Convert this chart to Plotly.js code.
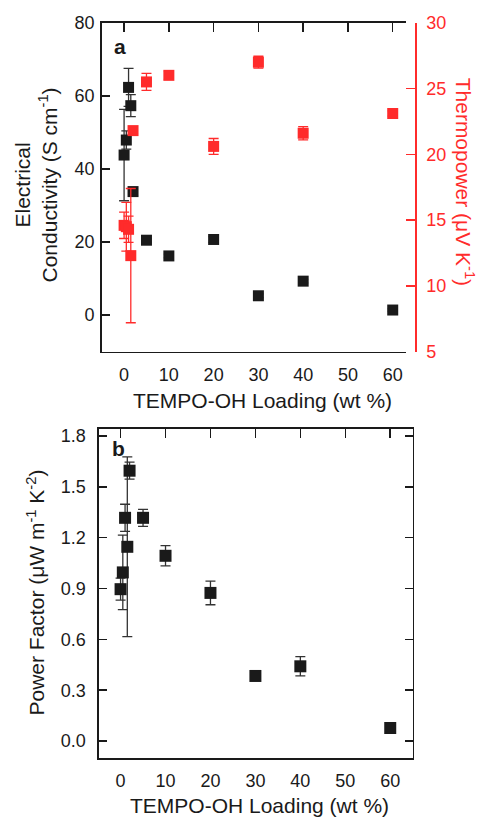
<!DOCTYPE html>
<html>
<head>
<meta charset="utf-8">
<script src="https://cdn.plot.ly/plotly-3.0.1.min.js"></script>
<style>html,body{margin:0;padding:0;background:#fff;}#chart{width:480px;height:820px;}</style>
</head>
<body>
<div id="chart"></div>
<script>
// ---- data ----
var loading = [0, 0.5, 1, 1.5, 2, 5, 10, 20, 30, 40, 60];
var conductivity = [43.8, 47.9, 62.3, 57.3, 33.8, 20.5, 16.2, 20.7, 5.3, 9.3, 1.4];
var conductivityErr = [12.5, 2.5, 5.2, 3.0, 1.0, 0.5, 0.5, 0.8, 0.5, 0.5, 0.3];
var thermopower = [14.6, 14.5, 14.3, 12.3, 21.8, 25.5, 26.0, 20.6, 27.0, 21.6, 23.1];
var thermopowerErr = [1.0, 1.85, 1.0, 5.1, 0.2, 0.65, 0.3, 0.6, 0.45, 0.5, 0.2];
var powerFactor = [0.896, 0.995, 1.317, 1.146, 1.595, 1.317, 1.093, 0.874, 0.384, 0.441, 0.077];
var powerFactorErr = [0.065, 0.22, 0.08, 0.53, 0.05, 0.05, 0.06, 0.07, 0.02, 0.057, 0.01];
var xTicks = [0, 10, 20, 30, 40, 60, 50];
var condTicks = [0, 20, 40, 60, 80];
var tpTicks = [5, 10, 15, 20, 25, 30];
var pfTicks = [0, 0.3, 0.6, 0.9, 1.2, 1.5, 1.8];

var FONT = 'Arial, "Liberation Sans", Helvetica, sans-serif';
var BLACK = '#1a1a1a';
var RED = '#ff2b2b';

var traces = [
  {x: loading, y: conductivity, xaxis: 'x', yaxis: 'y', type: 'scatter', mode: 'markers',
   marker: {symbol: 'square', size: 11, color: BLACK},
   error_y: {type: 'data', array: conductivityErr, visible: true, color: '#333', thickness: 1.3, width: 5},
   cliponaxis: false, showlegend: false},
  {x: loading, y: thermopower, xaxis: 'x', yaxis: 'y2', type: 'scatter', mode: 'markers',
   marker: {symbol: 'square', size: 11, color: RED},
   error_y: {type: 'data', array: thermopowerErr, visible: true, color: RED, thickness: 1.3, width: 5},
   cliponaxis: false, showlegend: false},
  {x: loading, y: powerFactor, xaxis: 'x2', yaxis: 'y3', type: 'scatter', mode: 'markers',
   marker: {symbol: 'square', size: 12, color: BLACK},
   error_y: {type: 'data', array: powerFactorErr, visible: true, color: '#333', thickness: 1.3, width: 5},
   cliponaxis: false, showlegend: false},
  {x: [], y: [], xaxis: 'x3', yaxis: 'y', type: 'scatter', showlegend: false},
  {x: [], y: [], xaxis: 'x4', yaxis: 'y3', type: 'scatter', showlegend: false}
];

var L = 99, R = 65, T = 22, B = 62, W = 480, H = 820;
var PW = W - L - R, PH = H - T - B;
function px(x){ return (x - L) / PW; }
function py(y){ return (H - B - y) / PH; }

var tickFont = {family: FONT, size: 18, color: BLACK};
var titleFont = {family: FONT, size: 21, color: BLACK};

var baseX = {showgrid: false, zeroline: false, showline: true, linecolor: BLACK, linewidth: 1.6,
  tickvals: xTicks, tickfont: tickFont, ticks: '', ticklabelstandoff: 6};
var topTicks = {showgrid: false, zeroline: false, showline: false, side: 'top', ticks: 'inside',
  ticklen: 9, tickwidth: 1.5, tickcolor: BLACK, tickvals: xTicks, showticklabels: false};

var layout = {
  width: W, height: H,
  margin: {l: L, r: R, t: T, b: B},
  paper_bgcolor: '#ffffff', plot_bgcolor: '#ffffff',
  font: {family: FONT, color: BLACK},
  showlegend: false,
  xaxis: Object.assign({}, baseX, {domain: [px(101.7), px(405.7)], range: [-5, 62.9], anchor: 'y', mirror: true}),
  xaxis3: Object.assign({}, topTicks, {domain: [px(101.7), px(405.7)], range: [-5, 62.9], anchor: 'y', overlaying: 'x'}),
  yaxis: {domain: [py(351.7), py(22.7)], range: [-10, 80], anchor: 'x', tickvals: condTicks,
    showgrid: false, zeroline: false, showline: true, linecolor: BLACK, linewidth: 1.6,
    ticks: 'inside', ticklen: 8, tickwidth: 1.5, tickcolor: BLACK, tickfont: tickFont, ticklabelstandoff: 2},
  yaxis2: {overlaying: 'y', side: 'right', anchor: 'free', position: 1, range: [5, 30], tickvals: tpTicks,
    showgrid: false, zeroline: false, showline: true, linecolor: RED, linewidth: 1.6,
    ticks: 'inside', ticklen: 9, tickwidth: 1.5, tickcolor: RED,
    tickfont: {family: FONT, size: 18, color: RED}, ticklabelstandoff: 6},
  xaxis2: Object.assign({}, baseX, {domain: [px(99), px(412.7)], range: [-4.8, 65], anchor: 'y3', mirror: true}),
  xaxis4: Object.assign({}, topTicks, {domain: [px(99), px(412.7)], range: [-4.8, 65], anchor: 'y3', overlaying: 'x2'}),
  yaxis3: {domain: [0, py(429)], range: [-0.1, 1.841], anchor: 'x2', tickvals: pfTicks, tickformat: '.1f',
    showgrid: false, zeroline: false, showline: true, linecolor: BLACK, linewidth: 1.6, mirror: 'ticks',
    ticks: 'inside', ticklen: 8, tickwidth: 1.5, tickcolor: BLACK, tickfont: tickFont, ticklabelstandoff: 8},
  annotations: [
    {text: 'TEMPO-OH Loading (wt %)', xref: 'paper', yref: 'paper', x: px(262.5), y: py(400),
     xanchor: 'center', yanchor: 'middle', showarrow: false, font: titleFont},
    {text: 'Electrical<br>Conductivity (S cm<sup>-1</sup>)', xref: 'paper', yref: 'paper', x: px(35.5), y: py(185),
     xanchor: 'center', yanchor: 'middle', textangle: -90, showarrow: false, font: titleFont},
    {text: 'Thermopower (μV K<sup>-1</sup>)', xref: 'paper', yref: 'paper', x: px(465), y: py(181.7),
     xanchor: 'center', yanchor: 'middle', textangle: 90, showarrow: false,
     font: {family: FONT, size: 21, color: RED}},
    {text: 'Power Factor (μW m<sup>-1</sup> K<sup>-2</sup>)', xref: 'paper', yref: 'paper', x: px(35), y: py(592.5),
     xanchor: 'center', yanchor: 'middle', textangle: -90, showarrow: false, font: titleFont},
    {text: 'TEMPO-OH Loading (wt %)', xref: 'paper', yref: 'paper', x: px(259), y: py(805),
     xanchor: 'center', yanchor: 'middle', showarrow: false, font: titleFont},
    {text: '<b>a</b>', xref: 'paper', yref: 'paper', x: px(120), y: py(46.7),
     xanchor: 'center', yanchor: 'middle', showarrow: false, font: {family: FONT, size: 21, color: BLACK}},
    {text: '<b>b</b>', xref: 'paper', yref: 'paper', x: px(118), y: py(448),
     xanchor: 'center', yanchor: 'middle', showarrow: false, font: {family: FONT, size: 21, color: BLACK}}
  ]
};

Plotly.newPlot('chart', traces, layout, {displayModeBar: false, staticPlot: true});
</script>
</body>
</html>
